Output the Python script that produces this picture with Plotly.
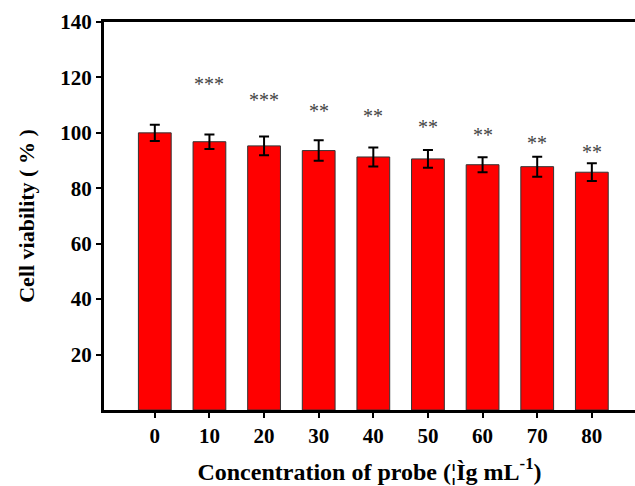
import plotly.graph_objects as go

concentrations = [0, 10, 20, 30, 40, 50, 60, 70, 80]
viability = [100.0, 96.8, 95.3, 93.6, 91.3, 90.6, 88.5, 87.8, 85.8]
errors = [2.9, 2.65, 3.4, 3.7, 3.4, 3.2, 2.7, 3.6, 3.2]
sig_labels = ["", "***", "***", "**", "**", "**", "**", "**", "**"]
sig_y = [None, 117.6, 111.9, 108.0, 106.0, 102.2, 99.2, 96.2, 93.0]
y_ticks = [20, 40, 60, 80, 100, 120, 140]

font_family = "Liberation Serif"

fig = go.Figure()
fig.add_trace(go.Bar(
    x=concentrations, y=viability, width=6,
    marker=dict(color="#FF0000", line=dict(color="#333333", width=1)),
    error_y=dict(type="data", array=errors, color="black", thickness=2, width=5),
))

for xv, lab, yv in zip(concentrations, sig_labels, sig_y):
    if lab:
        fig.add_annotation(x=xv, y=yv, text=lab, showarrow=False,
                           font=dict(family=font_family, size=20, color="#444444"),
                           xanchor="center", yanchor="middle")

fig.update_layout(
    width=635, height=486,
    margin=dict(l=104, r=0, t=22, b=76, autoexpand=False),
    plot_bgcolor="white", paper_bgcolor="white",
    showlegend=False,
    font=dict(family=font_family, color="black"),
    xaxis=dict(
        range=[-9.3, 87.9], tickmode="array", tickvals=concentrations,
        ticktext=[str(c) for c in concentrations],
        showline=True, linecolor="black", linewidth=3, mirror=True,
        ticks="outside", ticklen=5, tickwidth=2, tickcolor="black",
        showgrid=False, zeroline=False, automargin=False,
        tickfont=dict(family=font_family, size=21, color="black", weight="bold"),
        title=dict(text="Concentration of probe (¦Ìg mL<sup>-1</sup>)",
                   font=dict(family=font_family, size=24, color="black", weight="bold"),
                   standoff=16),
    ),
    yaxis=dict(
        range=[0, 140], tickmode="array", tickvals=y_ticks,
        showline=True, linecolor="black", linewidth=3,
        ticks="outside", ticklen=5, tickwidth=2, tickcolor="black",
        showgrid=False, zeroline=False, automargin=False,
        tickfont=dict(family=font_family, size=21, color="black", weight="bold"),
        title=dict(text="Cell viability ( % )",
                   font=dict(family=font_family, size=22, color="black", weight="bold"),
                   standoff=20),
    ),
)

fig.write_html("out.html", config={"displayModeBar": False},
               post_script="document.body.style.margin='0';")
